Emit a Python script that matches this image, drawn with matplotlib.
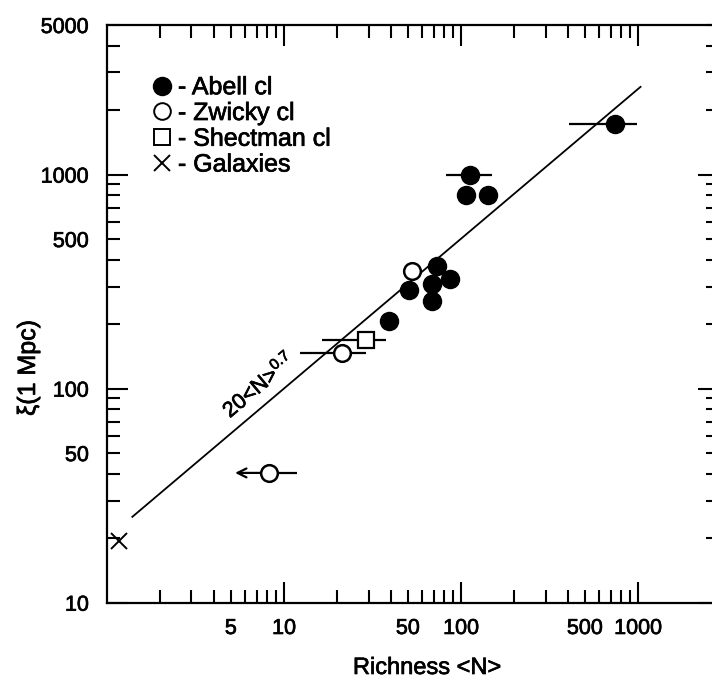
import numpy as np
import matplotlib
matplotlib.use("Agg")
import matplotlib.pyplot as plt
import matplotlib.patheffects as pe
from matplotlib.lines import Line2D

plt.rcParams['font.family'] = ['Liberation Sans', 'DejaVu Sans']
plt.rcParams['mathtext.fontset'] = 'custom'
plt.rcParams['mathtext.rm'] = 'Liberation Sans'
plt.rcParams['mathtext.it'] = 'Liberation Sans'

# Abell clusters: richness, correlation amplitude at 1 Mpc
abell_n = [741, 112, 107, 141, 73, 51, 68, 86, 68, 39]
abell_xi = [1720, 1000, 800, 800, 375, 289, 307, 327, 257, 207]
# richness ranges (low, high) for the first two Abell points
abell_n_lo = [407, 82]
abell_n_hi = [986, 149]

# Zwicky clusters
zwicky_n = [53, 21.3, 8.2]
zwicky_xi = [353, 147, 40.4]
zwicky_n_lo = [21.3 - 12.3, 8.2 - 8.2]
zwicky_n_hi = [29.2 - 21.3, 11.8 - 8.2]
zwicky_limit_to = 5.1

# Shectman clusters
shect_n = [29.2]
shect_xi = [169]
shect_n_lo = [16.3]
shect_n_hi = [37.8]

# Galaxies
gal_n = [1.17]
gal_xi = [19.5]

# power law 20 <N>^0.7
fit_n = np.array([1.39, 1030])
fit_xi = 20 * fit_n ** 0.7

x_minor = [2, 3, 4, 5, 6, 7, 8, 9, 20, 30, 40, 50, 60, 70, 80, 90,
           200, 300, 400, 500, 600, 700, 800, 900]
y_minor = [20, 30, 40, 50, 60, 70, 80, 90, 200, 300, 400, 500, 600, 700,
           800, 900, 2000, 3000, 4000, 5000]

# slightly heavier strokes for all text
heavy = [pe.withStroke(linewidth=0.5, foreground='black')]

W, H = 712, 684
fig = plt.figure(figsize=(W / 100, H / 100), dpi=100)
ax = fig.add_axes([107 / W, 1 - 602.7 / H, (719 - 107) / W, (602.7 - 25) / H])
ax.set_xscale('log')
ax.set_yscale('log')
ax.set_xlim(1, 10 ** (3 + (719 - 638.3) / 177))
ax.set_ylim(10, 5000)

ax.plot(fit_n, fit_xi, color='black', lw=1.3, zorder=2)

ax.errorbar(abell_n[:2], abell_xi[:2],
            xerr=[np.array(abell_n[:2]) - np.array(abell_n_lo),
                  np.array(abell_n_hi) - np.array(abell_n[:2])],
            fmt='none', ecolor='black', elinewidth=1.6, zorder=3)
ax.errorbar(zwicky_n[1:], zwicky_xi[1:], xerr=[zwicky_n_lo, zwicky_n_hi],
            fmt='none', ecolor='black', elinewidth=1.6, zorder=3)
ax.errorbar(shect_n, shect_xi,
            xerr=[[shect_n[0] - shect_n_lo[0]], [shect_n_hi[0] - shect_n[0]]],
            fmt='none', ecolor='black', elinewidth=1.6, zorder=3)
ax.annotate('', xy=(zwicky_limit_to, zwicky_xi[2]), xytext=(zwicky_n[2], zwicky_xi[2]),
            arrowprops=dict(arrowstyle='->', lw=1.6, color='black', mutation_scale=16),
            zorder=3)

ax.plot(abell_n, abell_xi, 'o', color='black', ms=13, ls='none', zorder=4)
ax.plot(zwicky_n, zwicky_xi, 'o', mfc='white', mec='black', mew=1.8, ms=12, ls='none', zorder=4)
ax.plot(shect_n, shect_xi, 's', mfc='white', mec='black', mew=1.6, ms=11, ls='none', zorder=4)
ax.plot(gal_n, gal_xi, 'x', color='black', mew=1.4, ms=12, ls='none', zorder=4)

ax.text(7.22, 103.5, r'20<N>$^{0.7}$', rotation=40, rotation_mode='anchor',
        ha='center', va='center', fontsize=15.5, path_effects=heavy)

# ticks on all four sides, pointing inward
ax.set_xticks([10, 100, 1000], ['10', '100', '1000'])
ax.set_xticks(x_minor, ['5' if v == 5 else '50' if v == 50 else '500' if v == 500 else ''
                        for v in x_minor], minor=True)
ax.set_yticks([10, 100, 1000], ['10', '100', '1000'])
ax.set_yticks(y_minor, [str(v) if v in (50, 500, 5000) else '' for v in y_minor], minor=True)
ax.tick_params(which='both', direction='in', top=True, right=True, width=1.5,
               labelsize=15.5, colors='black')
ax.tick_params(which='major', length=15)
ax.tick_params(which='minor', length=9.5)
ax.tick_params(axis='x', which='both', pad=11)
ax.tick_params(axis='y', which='both', pad=13)
for lbl in ax.get_xticklabels(which='both') + ax.get_yticklabels(which='both'):
    lbl.set_path_effects(heavy)
for s in ax.spines.values():
    s.set_linewidth(1.6)

fig.text(427 / W, 1 - 668 / H, 'Richness <N>', ha='center', va='center', fontsize=17,
         path_effects=heavy)
fig.text(28 / W, 1 - 368 / H, 'ξ(1 Mpc)', ha='center', va='center', rotation=90,
         fontsize=18, path_effects=heavy)

handles = [
    Line2D([], [], marker='o', color='black', ls='none', ms=13),
    Line2D([], [], marker='o', mfc='white', mec='black', mew=1.4, ls='none', ms=12),
    Line2D([], [], marker='s', mfc='white', mec='black', mew=1.4, ls='none', ms=11),
    Line2D([], [], marker='x', color='black', mew=1.4, ls='none', ms=12),
]
labels = ['- Abell cl', '- Zwicky cl', '- Shectman cl', '- Galaxies']
leg = ax.legend(handles, labels, loc='upper left', bbox_to_anchor=(0.073, 0.913),
                frameon=False, fontsize=18, handlelength=0.85, handletextpad=0.2,
                labelspacing=0.07, borderpad=0, borderaxespad=0)
for t in leg.get_texts():
    t.set_path_effects(heavy)

fig.savefig('out.png', dpi=100)
